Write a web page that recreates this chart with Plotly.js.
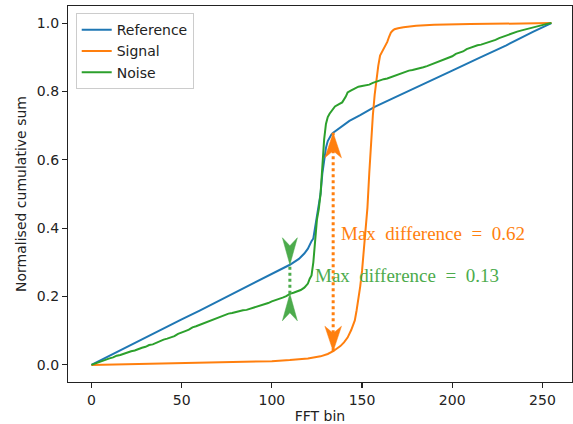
<!DOCTYPE html>
<html><head><meta charset="utf-8">
<script src="https://cdn.plot.ly/plotly-3.0.1.min.js"></script>
<style>html,body{margin:0;padding:0;background:#fff}#chart{width:573px;height:424px}</style>
</head><body><div id="chart"></div>
<script>
// ---- data ----
const referenceBins = [0,10,20,30,40,50,60,70,80,90,100,105,110,115,118,120,121,122,123,124,125,126,127,128,129,130,131,132,133,134,136,138,140,143,149,157,170,185,200,215,230,245,255];
const referenceValues = [0,0.027,0.053,0.080,0.106,0.133,0.159,0.186,0.212,0.239,0.265,0.279,0.293,0.310,0.326,0.340,0.352,0.362,0.370,0.400,0.440,0.470,0.500,0.560,0.605,0.635,0.655,0.667,0.674,0.679,0.687,0.695,0.703,0.714,0.731,0.755,0.787,0.823,0.861,0.898,0.935,0.975,1.0];

const signalBins = [0,20,40,60,80,100,110,120,127,131,134,136,138,140,142,144,146,147,148,149,150,151,152,153,154,155,156,157,158,159,160,161,162,163,164,165,166,167,168,170,173,180,190,210,230,255];
const signalValues = [0,0.002,0.004,0.006,0.008,0.011,0.014,0.019,0.025,0.032,0.040,0.047,0.055,0.066,0.080,0.102,0.130,0.160,0.190,0.230,0.275,0.335,0.395,0.460,0.560,0.650,0.730,0.790,0.840,0.875,0.905,0.915,0.925,0.935,0.945,0.960,0.972,0.978,0.982,0.985,0.988,0.992,0.995,0.997,0.998,1.0];

const noiseBins = [0,2,4,6,8,10,12,14,16,18,20,22,24,26,28,30,32,34,36,38,40,42,44,46,48,50,52,54,56,58,60,62,64,66,68,70,72,74,76,78,80,82,84,86,88,90,92,94,96,98,100,102,104,106,108,110,112,114,116,118,120,121,122,123,124,125,126,127,128,129,130,131,132,133,134,135,137,139,141,142,144,146,148,150,152,154,156,158,160,162,164,166,168,170,172,174,176,178,180,182,184,186,188,190,192,194,196,198,200,202,204,206,208,210,212,214,216,218,220,222,224,226,228,230,232,234,236,238,240,242,244,246,248,250,252,255];
const noiseValues = [0,0.004,0.009,0.011,0.016,0.019,0.022,0.027,0.029,0.033,0.036,0.040,0.042,0.047,0.050,0.053,0.058,0.060,0.065,0.068,0.074,0.077,0.081,0.084,0.091,0.094,0.099,0.103,0.110,0.113,0.117,0.122,0.125,0.131,0.134,0.138,0.143,0.145,0.150,0.152,0.155,0.157,0.160,0.161,0.164,0.167,0.170,0.175,0.177,0.181,0.186,0.189,0.193,0.197,0.201,0.208,0.211,0.215,0.219,0.226,0.238,0.252,0.262,0.300,0.370,0.425,0.455,0.500,0.580,0.660,0.705,0.725,0.735,0.742,0.752,0.756,0.762,0.768,0.785,0.797,0.803,0.809,0.814,0.816,0.818,0.820,0.825,0.829,0.832,0.836,0.838,0.842,0.846,0.849,0.854,0.857,0.861,0.863,0.865,0.869,0.871,0.874,0.878,0.881,0.886,0.889,0.894,0.898,0.903,0.910,0.914,0.917,0.924,0.928,0.932,0.935,0.937,0.940,0.944,0.947,0.951,0.956,0.960,0.965,0.968,0.972,0.975,0.978,0.981,0.984,0.987,0.990,0.992,0.995,0.997,1.0];

const seriesNames = ['Reference','Signal','Noise'];
const xTickValues = [0,50,100,150,200,250];
const yTickValues = [0,0.2,0.4,0.6,0.8,1.0];
const signalMaxDiffBin = 134;
const noiseMaxDiffBin = 110;
const signalMaxDiffLabel = 'Max difference = 0.62';
const noiseMaxDiffLabel = 'Max difference = 0.13';

// ---- drawing ----
const C = {blue:'#1f77b4', orange:'#ff7f0e', green:'#2ca02c', greenMark:'#4cab4c', ink:'#222222'};
function valueAt(bins, values, b){ return values[bins.indexOf(b)]; }

const traces = [
  {x:referenceBins, y:referenceValues, name:seriesNames[0], mode:'lines', line:{color:C.blue, width:2}},
  {x:signalBins, y:signalValues, name:seriesNames[1], mode:'lines', line:{color:C.orange, width:2}},
  {x:noiseBins, y:noiseValues, name:seriesNames[2], mode:'lines', line:{color:C.green, width:2}}
];

function dotted(xb, y0, y1, color){
  return {type:'line', xref:'x', yref:'y', x0:xb, x1:xb, y0:y0, y1:y1, line:{color:color, width:3, dash:'dot'}};
}
// dir = 1: head points up (body below tip); dir = -1: head points down
function head(xb, yv, dir, color, len, half, notch){
  const back = -len*dir, mid = -(len - notch)*dir;
  const p = 'M0,0 L' + (-half) + ',' + back + ' L0,' + mid + ' L' + half + ',' + back + ' Z';
  return {type:'path', xref:'x', yref:'y', xsizemode:'pixel', ysizemode:'pixel', xanchor:xb, yanchor:yv,
          path:p, fillcolor:color, line:{color:color, width:0.5}};
}

const sTop = valueAt(referenceBins, referenceValues, signalMaxDiffBin);
const sBot = valueAt(signalBins, signalValues, signalMaxDiffBin);
const nTop = valueAt(referenceBins, referenceValues, noiseMaxDiffBin);
const nBot = valueAt(noiseBins, noiseValues, noiseMaxDiffBin);

const shapes = [
  dotted(signalMaxDiffBin, sBot, sTop, C.orange),
  head(signalMaxDiffBin, sTop, 1, C.orange, 25, 8.3, 7),
  head(signalMaxDiffBin, sBot, -1, C.orange, 25, 8.3, 7),
  dotted(noiseMaxDiffBin, nBot, nTop, C.greenMark),
  head(noiseMaxDiffBin, nTop, -1, C.greenMark, 27, 7.5, 8),
  head(noiseMaxDiffBin, nBot, 1, C.greenMark, 27, 7.5, 8)
];

const sp = s => s.replace(/ /g, '\u2002');
const annotations = [
  {x:137.0, y:0.384, xref:'x', yref:'y', xanchor:'left', yanchor:'middle', showarrow:false,
   text:sp(signalMaxDiffLabel), font:{family:'Liberation Serif', size:19, color:C.orange}},
  {x:122.9, y:0.262, xref:'x', yref:'y', xanchor:'left', yanchor:'middle', showarrow:false,
   text:sp(noiseMaxDiffLabel), font:{family:'Liberation Serif', size:19, color:C.greenMark}}
];

const axisCommon = {ticks:'outside', ticklen:5, tickwidth:1.1, tickcolor:C.ink, showline:true, linecolor:C.ink,
  linewidth:1.1, mirror:true, showgrid:false, zeroline:false, tickfont:{size:14, color:C.ink}};

const layout = {
  width:573, height:424,
  margin:{l:68, r:1, t:6, b:42},
  paper_bgcolor:'#ffffff', plot_bgcolor:'#ffffff',
  font:{family:'DejaVu Sans', size:14, color:C.ink},
  showlegend:true,
  legend:{x:0.0153, y:0.981, xanchor:'left', yanchor:'top', bgcolor:'rgba(255,255,255,0.8)',
          bordercolor:'#cccccc', borderwidth:1, font:{size:14, color:C.ink}, itemwidth:30},
  xaxis:Object.assign({}, axisCommon, {range:[-13.0, 266.4], tickvals:xTickValues, ticktext:xTickValues.map(String),
          title:{text:'FFT bin', standoff:8, font:{size:14, color:C.ink}}}),
  yaxis:Object.assign({}, axisCommon, {range:[-0.05, 1.05], tickvals:yTickValues, ticktext:yTickValues.map(v=>v.toFixed(1)),
          title:{text:'Normalised cumulative sum', standoff:6, font:{size:14, color:C.ink}}}),
  shapes:shapes,
  annotations:annotations
};

Plotly.newPlot('chart', traces, layout, {staticPlot:true, displayModeBar:false});
</script>
</body></html>
